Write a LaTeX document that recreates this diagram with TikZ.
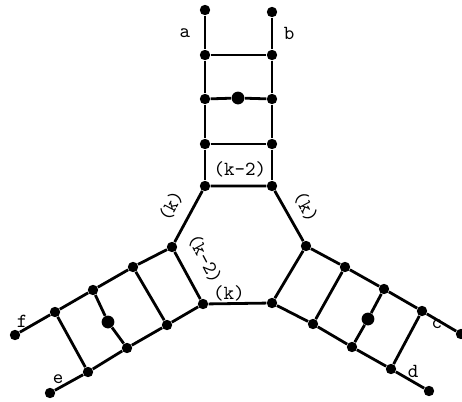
\documentclass[tikz,border=0pt]{standalone}
\usepackage{tikz}
\usetikzlibrary{positioning}
\tikzset{
  vtx/.style={circle,fill=black,inner sep=0pt,minimum size=5.2pt},
  bigvtx/.style={circle,fill=black,inner sep=0pt,minimum size=6.4pt},
  edge/.style={line width=1.4pt},
  lbl/.style={font=\ttfamily,inner sep=0pt}
}
\begin{document}
\begin{tikzpicture}[x=0.5pt,y=-0.5pt]
  \useasboundingbox (0,0) rectangle (462,402);
  % top ladder
  \node[vtx] (ta) at (205,10) {};
  \node[vtx] (tb) at (272,12) {};
  \node[vtx] (a1) at (205,55) {};
  \node[vtx] (b1) at (272,55) {};
  \node[vtx] (a2) at (205,99) {};
  \node[vtx] (b2) at (272,99) {};
  \node[bigvtx] (m1) at (238,98) {};
  \node[vtx] (a3) at (205,144) {};
  \node[vtx] (b3) at (272,144) {};
  % hexagon
  \node[vtx] (h1) at (205,186) {};
  \node[vtx] (h2) at (272,186) {};
  \node[vtx] (h3) at (306,246) {};
  \node[vtx] (h4) at (272,303) {};
  \node[vtx] (h5) at (203,304) {};
  \node[vtx] (h6) at (172,247) {};
  % left ladder
  \node[vtx] (l1) at (133,267) {};
  \node[vtx] (l2) at (93,290) {};
  \node[vtx] (l3) at (55,312) {};
  \node[vtx] (lf) at (15,335) {};
  \node[vtx] (k1) at (167,325) {};
  \node[vtx] (k2) at (127,348) {};
  \node[vtx] (k3) at (88,372) {};
  \node[vtx] (ke) at (50,393) {};
  \node[bigvtx] (m2) at (108,322) {};
  % right ladder
  \node[vtx] (r1) at (345,267) {};
  \node[vtx] (r2) at (384,289) {};
  \node[vtx] (r3) at (422,311) {};
  \node[vtx] (rc) at (461,334) {};
  \node[vtx] (s1) at (313,324) {};
  \node[vtx] (s2) at (352,347) {};
  \node[vtx] (s3) at (391,369) {};
  \node[vtx] (sd) at (429,391) {};
  \node[bigvtx] (m3) at (368,319) {};

  \draw[edge] (ta) -- (a1) -- (a2) -- (a3) -- (h1);
  \draw[edge] (tb) -- (b1) -- (b2) -- (b3) -- (h2);
  \draw[edge] (a1) -- (b1);
  \draw[edge] (a2) -- (m1) -- (b2);
  \draw[edge] (a3) -- (b3);
  \draw[edge] (h1) -- (h2) -- (h3) -- (h4) -- (h5) -- (h6) -- (h1);
  \draw[edge] (h6) -- (l1) -- (l2) -- (l3) -- (lf);
  \draw[edge] (h5) -- (k1) -- (k2) -- (k3) -- (ke);
  \draw[edge] (l1) -- (k1);
  \draw[edge] (l2) -- (m2) -- (k2);
  \draw[edge] (l3) -- (k3);
  \draw[edge] (h3) -- (r1) -- (r2) -- (r3) -- (rc);
  \draw[edge] (h4) -- (s1) -- (s2) -- (s3) -- (sd);
  \draw[edge] (r1) -- (s1);
  \draw[edge] (r2) -- (m3) -- (s2);
  \draw[edge] (r3) -- (s3);

  % labels
  \node[lbl] (la) at (185,33) {a};
  \node[lbl] (lb) at (289,33) {b};
  \node[lbl] (lc) at (437,324) {c};
  \node[lbl] (ld) at (413,371) {d};
  \node[lbl] (le) at (58,379) {e};
  \node[lbl] (lff) at (22,321) {f};
  \node[lbl] (kt) at (240,169) {(k-2)};
  \node[lbl,rotate=62] (kl) at (171,206) {(k)};
  \node[lbl,rotate=-62] (kr) at (306,207) {(k)};
  \node[lbl,rotate=-62] (kl2) at (205,259) {(k-2)};
  \node[lbl] (kb) at (229,293) {(k)};
\end{tikzpicture}
\end{document}
